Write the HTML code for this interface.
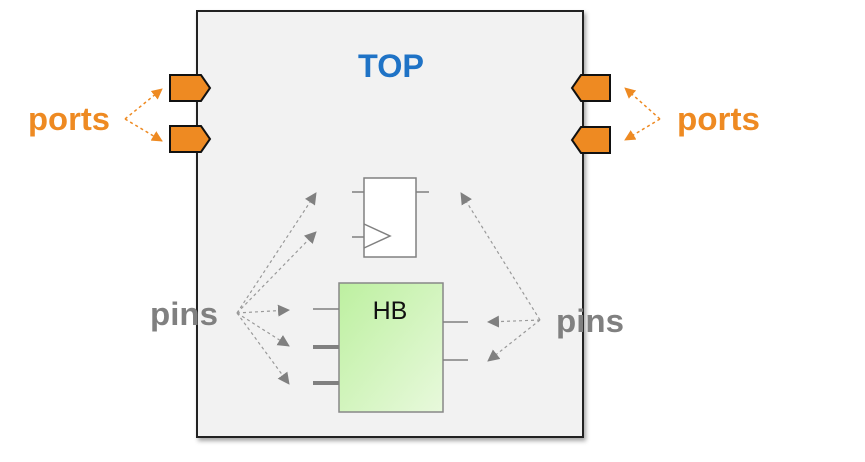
<!DOCTYPE html>
<html><head><meta charset="utf-8"><style>html,body{margin:0;padding:0;background:#fff}svg{display:block}</style></head>
<body>
<svg width="865" height="462" viewBox="0 0 865 462" xmlns="http://www.w3.org/2000/svg" font-family="Liberation Sans, Arial, sans-serif">
<defs>
<linearGradient id="g" x1="0" y1="0" x2="1" y2="1"><stop offset="0" stop-color="#bdf0a0"/><stop offset="1" stop-color="#e8f9dc"/></linearGradient>
<marker id="ag" markerWidth="12" markerHeight="12" refX="11" refY="6" orient="auto" markerUnits="userSpaceOnUse"><path d="M0,0 L12,6 L0,12 z" fill="#808080"/></marker>
<marker id="ao" markerWidth="11" markerHeight="11" refX="10" refY="5.5" orient="auto" markerUnits="userSpaceOnUse"><path d="M0,0 L11,5.5 L0,11 z" fill="#ee8a22"/></marker>
<filter id="sh"><feDropShadow dx="2" dy="3" stdDeviation="2" flood-opacity="0.35"/></filter>
</defs>
<rect x="197" y="11" width="386" height="426" fill="#f2f2f2" stroke="#222" stroke-width="2" filter="url(#sh)"/>
<text x="391" y="77" text-anchor="middle" font-size="32" font-weight="bold" fill="#1f73c6" textLength="66" lengthAdjust="spacingAndGlyphs">TOP</text>
<g fill="#ee8a22" stroke="#111" stroke-width="2">
<path d="M170,75 H201 L210,88 L201,101 H170 Z"/>
<path d="M170,126 H201 L210,139 L201,152 H170 Z"/>
<path d="M610,75 H581 L572,88 L581,101 H610 Z"/>
<path d="M610,127 H581 L572,140 L581,153 H610 Z"/>
</g>
<g stroke="#ee8a22" stroke-width="1.5" stroke-dasharray="3,3" fill="none" marker-end="url(#ao)">
<line x1="125" y1="119" x2="162" y2="89"/><line x1="125" y1="119" x2="162" y2="141"/>
<line x1="660" y1="119" x2="625" y2="88"/><line x1="660" y1="119" x2="625" y2="140"/>
</g>
<text x="28" y="130" font-size="32" font-weight="bold" fill="#ee8a22" textLength="82" lengthAdjust="spacingAndGlyphs">ports</text>
<text x="677" y="130" font-size="32" font-weight="bold" fill="#ee8a22" textLength="83" lengthAdjust="spacingAndGlyphs">ports</text>
<g stroke="#808080" stroke-width="1.5" fill="none">
<rect x="364" y="178" width="52" height="79" fill="#fff"/>
<line x1="352" y1="192" x2="364" y2="192"/><line x1="416" y1="192" x2="429" y2="192"/>
<line x1="352" y1="237" x2="364" y2="237"/>
<path d="M364,224 L390,236 L364,248"/>
</g>
<rect x="339" y="283" width="104" height="129" fill="url(#g)" stroke="#888" stroke-width="1.5"/>
<text x="390" y="319" text-anchor="middle" font-size="25" fill="#111">HB</text>
<g stroke="#808080">
<line x1="313" y1="309" x2="339" y2="309" stroke-width="1.5"/>
<line x1="313" y1="347" x2="339" y2="347" stroke-width="4"/>
<line x1="313" y1="383" x2="339" y2="383" stroke-width="4"/>
<line x1="443" y1="322" x2="468" y2="322" stroke-width="1.5"/>
<line x1="443" y1="360" x2="468" y2="360" stroke-width="1.5"/>
</g>
<g stroke="#999" stroke-width="1.2" stroke-dasharray="3,3" fill="none" marker-end="url(#ag)">
<line x1="237" y1="313" x2="316" y2="193"/><line x1="237" y1="313" x2="316" y2="232"/>
<line x1="237" y1="313" x2="289" y2="310"/><line x1="237" y1="313" x2="289" y2="346"/>
<line x1="237" y1="313" x2="289" y2="384"/>
<line x1="540" y1="320" x2="461" y2="193"/><line x1="540" y1="320" x2="488" y2="322"/>
<line x1="540" y1="320" x2="488" y2="361"/>
</g>
<text x="150" y="325" font-size="32" font-weight="bold" fill="#808080" textLength="68" lengthAdjust="spacingAndGlyphs">pins</text>
<text x="556" y="332" font-size="32" font-weight="bold" fill="#808080" textLength="68" lengthAdjust="spacingAndGlyphs">pins</text>
</svg>
</body></html>
